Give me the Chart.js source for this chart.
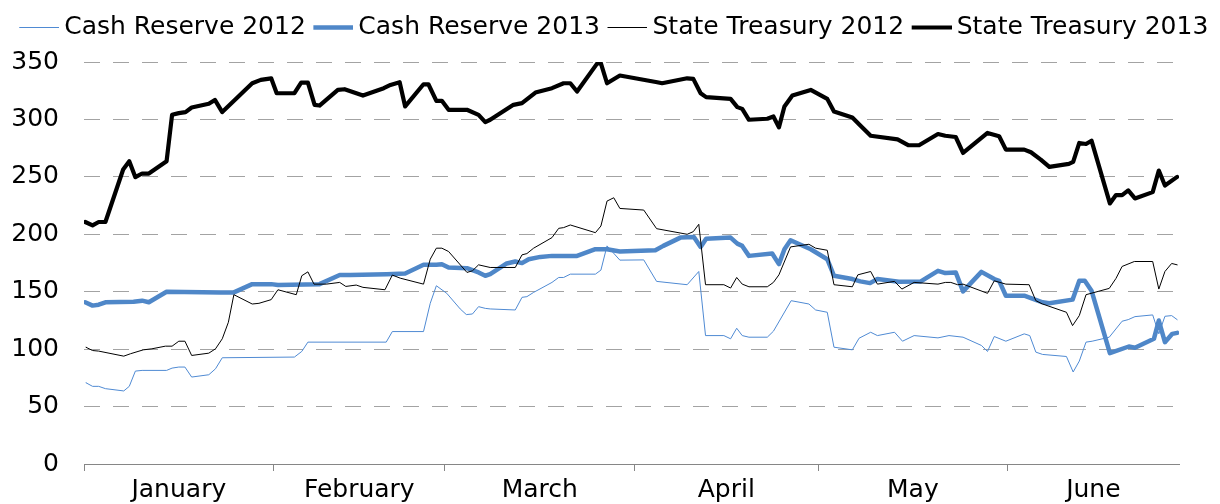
<!DOCTYPE html>
<html>
<head>
<meta charset="utf-8">
<script src="https://cdn.jsdelivr.net/npm/chart.js@4.4.1/dist/chart.umd.min.js"></script>
<style>
html,body{margin:0;padding:0;background:#ffffff;}
#wrap{width:1220px;height:504px;}
</style>
</head>
<body>
<div id="wrap"><canvas id="c" width="1220" height="504"></canvas></div>
<script>
// ---- data (x = day of year, 0 = 1 January) ----
const seriesNames = ['Cash Reserve 2012', 'Cash Reserve 2013', 'State Treasury 2012', 'State Treasury 2013'];
const monthNames = ['January', 'February', 'March', 'April', 'May', 'June'];
const monthStartDays = [0, 31, 59, 90, 120, 151];
const lastDay = 179;
const yTicks = [0, 50, 100, 150, 200, 250, 300, 350];

const cashReserve2012Days = [0.3,1.4,2.4,3.5,6.5,7.4,8.4,9.5,13.5,14.4,15.5,16.5,17.6,20.4,21.5,22.6,34.4,35.6,36.6,
  49.4,50.4,55.5,56.6,57.6,59.3,61.5,62.5,63.5,64.5,65.6,66.4,70.5,71.6,72.4,73.5,76.5,77.6,78.4,79.5,83.6,84.5,85.5,87.6,
  91.5,93.6,98.6,100.5,101.6,104.6,105.7,106.7,107.6,108.7,111.7,112.7,115.6,118.5,119.6,121.5,122.6,125.6,126.7,128.6,129.7,132.5,
  133.8,135.7,139.6,141.4,143.7,146.7,147.7,148.8,150.7,153.7,154.6,155.6,156.7,160.6,161.7,162.7,163.8,164.8,167.6,169.7,170.7,171.8,174.7,175.7,176.7,177.8,178.7];
const cashReserve2012Values = [70.8,67.6,67.6,65.6,63.6,67.6,80.9,81.5,81.5,83.5,84.4,84.4,75.7,77.7,82.9,92.5,93.1,98,106.1,
  106.1,115.3,115.3,139.9,155.2,148.6,135,130.1,130.6,137,135.5,135,134.1,145.1,145.7,149.4,158.1,162.4,162.4,165.3,165.3,168.8,189.9,177.5,
  177.7,159,156.1,167.6,111.8,111.8,109,118.2,111.8,110.4,110.4,115.6,142.2,139.3,134.1,132.1,101.7,99.4,109.5,114.7,111.8,114.7,
  106.9,111.8,109.8,111.8,110.4,103.2,98,111,106.9,113.3,111.8,97.4,95.4,93.6,80.1,89.6,106.1,106.9,110.4,124.3,125.7,128.3,129.8,113.3,128.6,129.2,125.7];

const cashReserve2013Days = [0.2,1.4,2.4,3.5,8.1,9.5,10.6,13.5,22.3,24.5,27.5,30.6,31.7,38.5,41.8,
  43.5,49.5,52.5,55.5,57.6,58.5,59.6,62.6,64.5,65.6,66.4,69.1,70.5,71.6,72.7,74.6,76.5,80.6,83.6,85.5,87.6,
  93.4,94.7,97.5,99.7,100.8,101.7,105.7,106.8,107.6,108.7,112.5,113.6,114.5,115.5,118.8,121.5,122.6,125.6,126.9,128.5,129.7,133.2,
  136.8,139.6,140.8,142.5,143.7,146.7,148.8,149.6,150.7,153.7,154.8,156.7,157.8,161.6,162.7,163.6,164.7,167.7,170.8,171.8,174.9,175.7,176.7,177.9,178.7];
const cashReserve2013Values = [140.8,137.9,138.7,140.8,141.3,142.2,140.8,150,149.4,149.4,156.6,156.6,155.8,156.6,164.5,
  164.5,165.3,165.9,173.4,173.4,174,171.1,170.5,166.8,163.9,165.3,174.6,176.3,174.9,178.3,180.3,181.2,181.2,187,187,185,
  186.1,189.9,197.1,197.7,189,196.2,197.1,191.9,189.9,181.2,183.2,174,187,194.8,187,178.3,163.9,161,159,157.5,161,158.7,
  159,168.2,166.2,166.8,150.3,167.3,161,159.5,146.5,146.5,144.5,140.8,139.9,143.1,159.5,159.5,150.9,96.5,102.3,101.2,109,124.9,106.1,113.3,114.2];

const stateTreasury2012Days = [0.3,1.4,2.4,6.5,7.6,9.7,11.1,13.3,14.4,15.5,16.5,17.6,20.4,21.5,22.6,23.6,24.5,27.5,28.6,30.6,31.7,34.7,35.6,36.6,37.6,39.6,41.8,42.8,
  44.5,45.6,49.2,50.4,51.7,55.5,56.6,57.6,58.5,59.6,62.6,63.5,64.5,66.4,70.5,71.6,72.4,73.5,76.5,77.6,78.4,79.5,83.6,84.5,85.5,86.6,87.6,
  91.5,93.6,98.6,99.6,100.5,101.6,104.6,105.7,106.7,107.6,108.7,111.7,112.7,113.6,115.5,118.5,119.6,121.5,122.6,125.6,126.5,128.6,129.7,132.5,
  133.7,135.7,139.6,140.8,141.7,142.8,143.7,147.7,148.8,150.7,154.5,155.6,156.7,160.6,161.6,162.7,163.8,167.6,168.7,169.7,171.7,174.7,175.7,176.7,177.8,178.7];
const stateTreasury2012Values = [101.7,98.8,98.3,93.9,96,99.4,100.3,102.6,102.6,106.9,106.9,94.5,96.5,100.3,109,123.4,147.4,139.3,139.9,143.1,151.7,147.4,163.9,167.3,156.6,156.6,158.1,154.6,
  155.8,153.8,151.7,164.5,161.8,156.6,178.3,187.9,187.9,185,166.8,168.2,173.4,171.1,171.1,182.1,183.2,187.9,197.1,205.2,205.8,208.1,201.4,207.2,228.9,231.8,222.5,
  221.1,204.9,200,202.3,208.7,156.1,156.1,153.2,162.4,156.6,154.3,154.3,158.1,164.7,189,191.3,187.9,186.1,156.1,154.3,164.7,167.6,156.6,159,
  152.3,158.1,156.6,158.1,158.1,156.1,156.6,148.6,159.5,156.6,156.1,142.2,139.3,132.1,120.5,129.2,147.4,152.9,161.6,172,176.3,176.3,152.3,167.6,174.6,173.4];

const stateTreasury2013Days = [0.2,1.4,2.4,3.5,6.4,7.4,8.4,9.5,10.6,13.5,14.4,15.5,16.6,17.6,20.4,21.4,22.6,27.5,28.9,30.6,31.5,34.4,35.5,36.6,37.7,38.5,41.5,42.6,
  45.6,49,50.1,51.6,52.5,55.5,56.3,57.6,58.5,59.6,62.6,64.5,65.6,66.4,70.2,71.6,73.8,76.5,78.4,79.5,80.6,83.9,84.5,85.5,87.6,
  93.7,94.5,98.6,99.6,100.8,101.7,105.7,106.8,107.6,108.7,111.7,112.7,113.6,114.5,115.8,118.8,121.5,122.6,125.6,126.9,128.6,133,
  134.8,136.5,139.6,140.8,142.5,143.7,147.7,149.6,150.7,153.7,154.8,156.4,157.8,161,161.7,162.7,163.8,164.7,167.7,168.7,169.7,170.7,171.8,174.7,175.7,176.7,178.7];
const stateTreasury2013Values = [210.7,207.8,210.7,210.7,256.4,263.6,249.7,252.9,252.9,263.6,304,305.5,306.4,310.4,313.6,317,306.4,331.5,334.4,335.8,322.8,322.8,332,332,312.7,312.1,325.7,326.3,
  320.8,327.2,330,332.4,311.3,330.6,330.6,316.2,316.2,308.4,308.4,304,297.7,299.7,312.7,314.2,323.4,327.2,331.5,331.5,324.3,348.8,348.8,331.5,338.2,
  332.4,331.5,335.8,335.3,322.8,319.4,317.9,310.7,309.2,299.7,300.6,302.6,293.1,311.3,320.8,325.7,317.9,306.9,301.7,294.8,285.8,282.6,
  277.5,277.5,287.3,285.8,284.7,270.8,288.2,285.3,273.7,273.7,271.4,265,258.7,261.3,263,279.5,278.6,281.5,226.9,234.1,234.1,238.2,231.2,236.7,255.5,242.5,250];

// ---- helpers built from the arrays above ----
const toPoints = (days, vals) => days.map((d, i) => ({ x: d, y: vals[i] }));
const monthMidDays = monthStartDays.map((s, i) => (s + (i + 1 < monthStartDays.length ? monthStartDays[i + 1] : lastDay)) / 2);
const xTickValues = monthStartDays.concat(monthMidDays).sort((a, b) => a - b);

const FONT = 'DejaVu Sans';
const AXIS_GREY = '#868686';
const GRID_GREY = '#a3a3a3';
const THIN_BLUE = '#4f8ad3';
const THICK_BLUE = '#4f87c8';

// legend sample: a 40px line that ends 5px before the label text
function legendIcon(color, width) {
  const cv = document.createElement('canvas');
  cv.width = 55; cv.height = 11;
  const g = cv.getContext('2d');
  g.strokeStyle = color;
  g.lineWidth = width;
  g.beginPath();
  g.moveTo(15, 5.5);
  g.lineTo(55, 5.5);
  g.stroke();
  return cv;
}

const legendSpacer = {
  id: 'legendSpacer',
  beforeInit(chart) {
    const lg = chart.legend;
    if (!lg) return;
    const fit = lg.fit;
    lg.fit = function () { fit.call(this); this.height += 12; };
  }
};

new Chart(document.getElementById('c'), {
  type: 'line',
  data: {
    datasets: [
      { label: seriesNames[0], data: toPoints(cashReserve2012Days, cashReserve2012Values), borderColor: THIN_BLUE, backgroundColor: THIN_BLUE, borderWidth: 1, order: 4, pointStyle: legendIcon(THIN_BLUE, 1) },
      { label: seriesNames[1], data: toPoints(cashReserve2013Days, cashReserve2013Values), borderColor: THICK_BLUE, backgroundColor: THICK_BLUE, borderWidth: 4.5, order: 3, pointStyle: legendIcon(THICK_BLUE, 4.5) },
      { label: seriesNames[2], data: toPoints(stateTreasury2012Days, stateTreasury2012Values), borderColor: '#000000', backgroundColor: '#000000', borderWidth: 1, order: 2, pointStyle: legendIcon('#000000', 1) },
      { label: seriesNames[3], data: toPoints(stateTreasury2013Days, stateTreasury2013Values), borderColor: '#000000', backgroundColor: '#000000', borderWidth: 4.2, order: 1, pointStyle: legendIcon('#000000', 4.2) }
    ]
  },
  options: {
    responsive: false,
    animation: false,
    devicePixelRatio: 1,
    layout: { padding: { top: 15, left: 0, right: 0, bottom: 0 } },
    elements: {
      point: { radius: 0, hoverRadius: 0 },
      line: { tension: 0, fill: false, borderJoinStyle: 'round', borderCapStyle: 'round' }
    },
    plugins: {
      tooltip: { enabled: false },
      legend: {
        position: 'top',
        align: 'center',
        labels: {
          usePointStyle: true,
          pointStyleWidth: 40,
          padding: 0,
          color: '#000000',
          font: { family: FONT, size: 25 },
          sort: (a, b) => a.datasetIndex - b.datasetIndex
        }
      }
    },
    scales: {
      x: {
        type: 'linear',
        position: 'bottom',
        min: 0,
        max: lastDay,
        afterBuildTicks: (s) => { s.ticks = xTickValues.map(v => ({ value: v })); },
        afterFit: (s) => { s.height = 38; },
        ticks: {
          autoSkip: false,
          maxRotation: 0,
          minRotation: 0,
          padding: 4,
          color: '#000000',
          font: { family: FONT, size: 25 },
          callback: (v) => { const i = monthMidDays.indexOf(v); return i >= 0 ? monthNames[i] : ''; }
        },
        grid: {
          display: true,
          drawOnChartArea: false,
          drawTicks: true,
          tickLength: 7,
          lineWidth: 1,
          color: (ctx) => (ctx.tick && monthStartDays.indexOf(ctx.tick.value) >= 0) ? AXIS_GREY : 'rgba(0,0,0,0)'
        },
        border: { display: true, color: AXIS_GREY, width: 1 }
      },
      y: {
        position: 'left',
        min: 0,
        max: 350,
        afterBuildTicks: (s) => { s.ticks = yTicks.map(v => ({ value: v })); },
        afterFit: (s) => { s.width = 84; },
        ticks: {
          padding: 25,
          color: '#000000',
          font: { family: FONT, size: 25 }
        },
        grid: {
          drawTicks: false,
          lineWidth: 1,
          color: (ctx) => (ctx.tick && ctx.tick.value === 0) ? 'rgba(0,0,0,0)' : GRID_GREY
        },
        border: { display: false, dash: [16, 13] }
      },
      yRightSpace: {
        position: 'right',
        min: 0,
        max: 350,
        afterFit: (s) => { s.width = 41; },
        ticks: { display: false },
        grid: { display: false, drawTicks: false },
        border: { display: false }
      }
    }
  },
  plugins: [legendSpacer]
});
</script>
</body>
</html>
